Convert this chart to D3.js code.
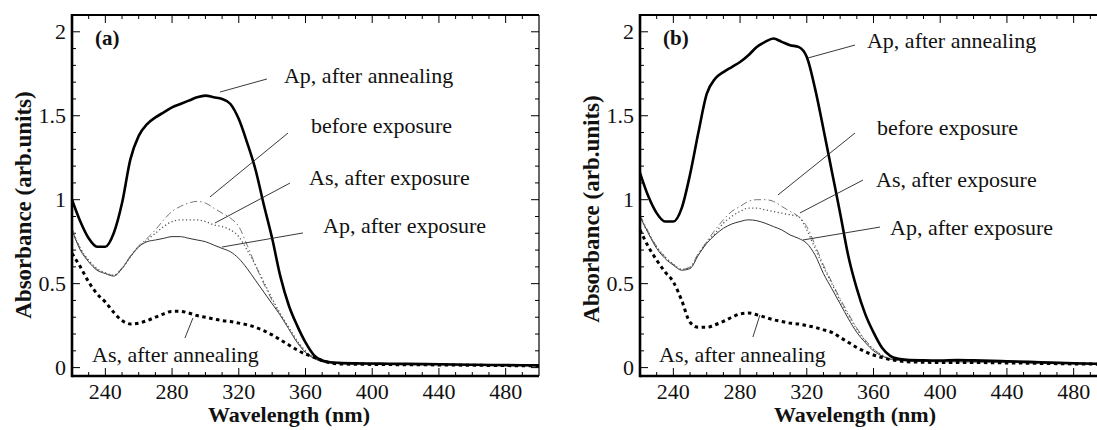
<!DOCTYPE html>
<html><head><meta charset="utf-8">
<script src="https://cdn.jsdelivr.net/npm/d3@7"></script>
</head>
<body style="margin:0;background:#fff">
<svg id="chart" width="1097" height="430" style="display:block"></svg>
<script>
// ---- data ----
const wavelengths = [220,225,230,235,240,245,250,255,260,265,270,275,280,285,290,295,300,305,310,315,320,325,330,335,340,345,350,355,360,365,370,375,380,390,400,410,420,440,460,480,500];

// panel (a)
const aApAnneal = [1.00,0.87,0.77,0.72,0.72,0.80,0.98,1.24,1.38,1.45,1.49,1.52,1.55,1.57,1.59,1.61,1.62,1.61,1.60,1.57,1.48,1.34,1.18,0.97,0.77,0.54,0.37,0.25,0.15,0.075,0.042,0.032,0.028,0.025,0.024,0.023,0.022,0.020,0.017,0.015,0.013];
const aBefore   = [0.83,0.71,0.635,0.585,0.56,0.55,0.595,0.665,0.725,0.77,0.82,0.88,0.93,0.96,0.98,0.99,0.98,0.95,0.92,0.89,0.84,0.73,0.61,0.50,0.40,0.31,0.23,0.155,0.095,0.058,0.036,0.028,0.025,0.023,0.022,0.021,0.020,0.018,0.016,0.014,0.012];
const aAsExp    = [0.82,0.71,0.64,0.59,0.565,0.55,0.59,0.66,0.72,0.76,0.80,0.84,0.87,0.88,0.88,0.88,0.87,0.85,0.84,0.82,0.78,0.70,0.61,0.51,0.41,0.32,0.24,0.16,0.10,0.06,0.037,0.029,0.026,0.024,0.023,0.022,0.021,0.019,0.017,0.015,0.013];
const aApExp    = [0.82,0.70,0.63,0.58,0.56,0.545,0.59,0.66,0.72,0.75,0.76,0.77,0.78,0.78,0.77,0.76,0.75,0.73,0.71,0.69,0.65,0.59,0.52,0.45,0.38,0.31,0.23,0.15,0.09,0.055,0.035,0.028,0.025,0.023,0.022,0.021,0.020,0.018,0.016,0.014,0.012];
const aAsAnneal = [0.68,0.60,0.51,0.44,0.39,0.33,0.28,0.26,0.265,0.28,0.30,0.32,0.335,0.335,0.325,0.31,0.30,0.29,0.28,0.275,0.265,0.255,0.24,0.22,0.195,0.165,0.135,0.105,0.08,0.062,0.042,0.028,0.022,0.020,0.019,0.018,0.017,0.016,0.014,0.012,0.011];

// panel (b)
const bApAnneal = [1.16,1.02,0.92,0.87,0.87,0.95,1.15,1.40,1.63,1.72,1.76,1.79,1.82,1.86,1.91,1.94,1.96,1.94,1.92,1.91,1.85,1.66,1.42,1.17,0.92,0.66,0.47,0.32,0.21,0.12,0.07,0.052,0.046,0.043,0.042,0.045,0.043,0.038,0.032,0.026,0.022];
const bBefore   = [0.91,0.81,0.72,0.66,0.615,0.585,0.60,0.68,0.75,0.82,0.88,0.93,0.96,0.99,1.00,1.00,0.99,0.96,0.93,0.90,0.84,0.73,0.61,0.51,0.41,0.32,0.235,0.165,0.11,0.075,0.052,0.045,0.041,0.038,0.036,0.036,0.035,0.032,0.028,0.024,0.021];
const bAsExp    = [0.90,0.80,0.72,0.66,0.615,0.585,0.595,0.675,0.745,0.80,0.86,0.90,0.93,0.95,0.95,0.94,0.93,0.92,0.91,0.90,0.82,0.71,0.60,0.50,0.40,0.31,0.23,0.16,0.11,0.075,0.052,0.045,0.041,0.038,0.036,0.036,0.035,0.032,0.028,0.024,0.021];
const bApExp    = [0.90,0.80,0.71,0.65,0.61,0.58,0.59,0.67,0.74,0.79,0.83,0.855,0.87,0.88,0.875,0.86,0.84,0.82,0.79,0.77,0.74,0.67,0.56,0.47,0.38,0.29,0.21,0.15,0.10,0.07,0.05,0.044,0.040,0.037,0.035,0.035,0.034,0.031,0.027,0.023,0.020];
const bAsAnneal = [0.82,0.72,0.64,0.57,0.51,0.40,0.27,0.24,0.24,0.255,0.275,0.30,0.32,0.325,0.315,0.30,0.285,0.275,0.265,0.26,0.25,0.24,0.225,0.21,0.18,0.15,0.12,0.095,0.075,0.06,0.048,0.04,0.035,0.032,0.030,0.030,0.030,0.028,0.025,0.022,0.020];

const xTickValues = [240,280,320,360,400,440,480];
const yTickValues = [0,0.5,1,1.5,2];
const yTickLabels = ["0","0.5","1","1.5","2"];
const panelLabels = ["(a)","(b)"];
const seriesNames = ["Ap, after annealing","before exposure","As, after exposure","Ap, after exposure","As, after annealing"];

// annotation anchors in data units: [leader start wl, abs, leader end wl, abs, text wl, abs]
const annotA = [
  [308.7,1.641,336.9,1.719,347.1,1.696],
  [302.7,1.016,349.5,1.397,363.3,1.397],
  [305.7,0.861,350.7,1.099,362.1,1.088],
  [309.9,0.718,358.5,0.802,370.5,0.802],
  [287.7,0.176,292.5,0.295,232.0,0.033]
];
const annotB = [
  [320.7,1.844,348.9,1.921,356.1,1.903],
  [302.7,1.028,348.9,1.397,362.1,1.385],
  [315.9,0.921,353.7,1.117,361.5,1.076],
  [317.7,0.760,363.9,0.837,369.9,0.790],
  [287.7,0.182,291.9,0.313,231.4,0.033]
];

// ---- layout ----
const FONT = "Liberation Serif";
const svg = d3.select("#chart");
const panels = [
  {left:72, right:539, series:[aApAnneal,aBefore,aAsExp,aApExp,aAsAnneal], annot:annotA, label:panelLabels[0], xTitle:289, yTitleX:31, yTitleY:205, rightBorder:true},
  {left:640, right:1107, series:[bApAnneal,bBefore,bAsExp,bApExp,bAsAnneal], annot:annotB, label:panelLabels[1], xTitle:855, yTitleX:599, yTitleY:209, rightBorder:false}
];
const plotTop = 15, plotBottom = 376;
const y = d3.scaleLinear().domain([-0.05,2.1]).range([plotBottom, plotTop]);

const styles = [
  {w:2.6, c:"#000", dash:null},           // Ap after annealing
  {w:1.0, c:"#777", dash:"7,3,1.5,3"},    // before exposure
  {w:1.3, c:"#555", dash:"1.2,2.5"},      // As after exposure
  {w:1.0, c:"#333", dash:null},           // Ap after exposure
  {w:3.0, c:"#000", dash:"3.5,3.5"}       // As after annealing
];
const drawOrder = [3,1,2,4,0];

function addText(g, x, yy, str, size, opts) {
  const t = g.append("text").attr("x", x).attr("y", yy)
    .style("font-family", FONT).attr("font-size", size).attr("fill", "#111").text(str);
  if (opts && opts.anchor) t.attr("text-anchor", opts.anchor);
  if (opts && opts.bold) t.attr("font-weight", "bold");
  if (opts && opts.dy) t.attr("dy", opts.dy);
  return t;
}

panels.forEach(p => {
  const x = d3.scaleLinear().domain([220,500]).range([p.left, p.right]);
  const g = svg.append("g");

  // ticks (inward)
  const minorX = d3.range(230, 500, 10).filter(v => !xTickValues.includes(v));
  const minorY = d3.range(0, 2.05, 0.1).map(v => +v.toFixed(1)).filter(v => !yTickValues.includes(v));
  const tickG = g.append("g").attr("stroke","#000").attr("stroke-width",1);
  xTickValues.forEach(v => {
    tickG.append("line").attr("x1",x(v)).attr("x2",x(v)).attr("y1",plotBottom).attr("y2",plotBottom-8);
    tickG.append("line").attr("x1",x(v)).attr("x2",x(v)).attr("y1",plotTop).attr("y2",plotTop+8);
  });
  minorX.forEach(v => {
    tickG.append("line").attr("x1",x(v)).attr("x2",x(v)).attr("y1",plotBottom).attr("y2",plotBottom-4);
    tickG.append("line").attr("x1",x(v)).attr("x2",x(v)).attr("y1",plotTop).attr("y2",plotTop+4);
  });
  yTickValues.forEach(v => {
    tickG.append("line").attr("x1",p.left).attr("x2",p.left+8).attr("y1",y(v)).attr("y2",y(v));
    tickG.append("line").attr("x1",p.right).attr("x2",p.right-8).attr("y1",y(v)).attr("y2",y(v));
  });
  minorY.forEach(v => {
    tickG.append("line").attr("x1",p.left).attr("x2",p.left+4).attr("y1",y(v)).attr("y2",y(v));
    tickG.append("line").attr("x1",p.right).attr("x2",p.right-4).attr("y1",y(v)).attr("y2",y(v));
  });

  // curves
  const line = d3.line().x((d,i)=>x(wavelengths[i])).y(d=>y(d)).curve(d3.curveMonotoneX);
  drawOrder.forEach(si => {
    const s = styles[si];
    g.append("path").datum(p.series[si]).attr("d", line)
      .attr("fill","none").attr("stroke",s.c).attr("stroke-width",s.w)
      .attr("stroke-linejoin","round")
      .attr("stroke-dasharray", s.dash);
  });

  // frame
  g.append("line").attr("x1",p.left).attr("x2",p.right).attr("y1",plotTop).attr("y2",plotTop).attr("stroke","#000").attr("stroke-width",2);
  g.append("line").attr("x1",p.left).attr("x2",p.right).attr("y1",plotBottom).attr("y2",plotBottom).attr("stroke","#000").attr("stroke-width",2.6);
  g.append("line").attr("x1",p.left).attr("x2",p.left).attr("y1",plotTop-1).attr("y2",plotBottom+1.3).attr("stroke","#000").attr("stroke-width",2.6);
  if (p.rightBorder) g.append("line").attr("x1",p.right).attr("x2",p.right).attr("y1",plotTop).attr("y2",plotBottom).attr("stroke","#000").attr("stroke-width",1.2);

  // tick labels
  xTickValues.forEach(v => addText(g, x(v), 399, String(v), 22, {anchor:"middle"}));
  yTickValues.forEach((v,i) => addText(g, p.left-6, y(v), yTickLabels[i], 22, {anchor:"end", dy:"0.34em"}));

  // titles
  addText(g, p.xTitle, 422, "Wavelength (nm)", 22, {anchor:"middle", bold:true});
  addText(g, 0, 0, "Absorbance (arb.units)", 23, {anchor:"middle", bold:true})
    .attr("transform", `translate(${p.yTitleX},${p.yTitleY}) rotate(-90)`);

  // panel label
  addText(g, x(233.8), y(1.921), p.label, 21, {bold:true});

  // annotations
  p.annot.forEach((a,i) => {
    g.append("line").attr("x1",x(a[0])).attr("y1",y(a[1])).attr("x2",x(a[2])).attr("y2",y(a[3]))
      .attr("stroke","#222").attr("stroke-width",0.9);
    addText(g, x(a[4]), y(a[5]), seriesNames[i], 22);
  });
});
</script>
</body></html>
